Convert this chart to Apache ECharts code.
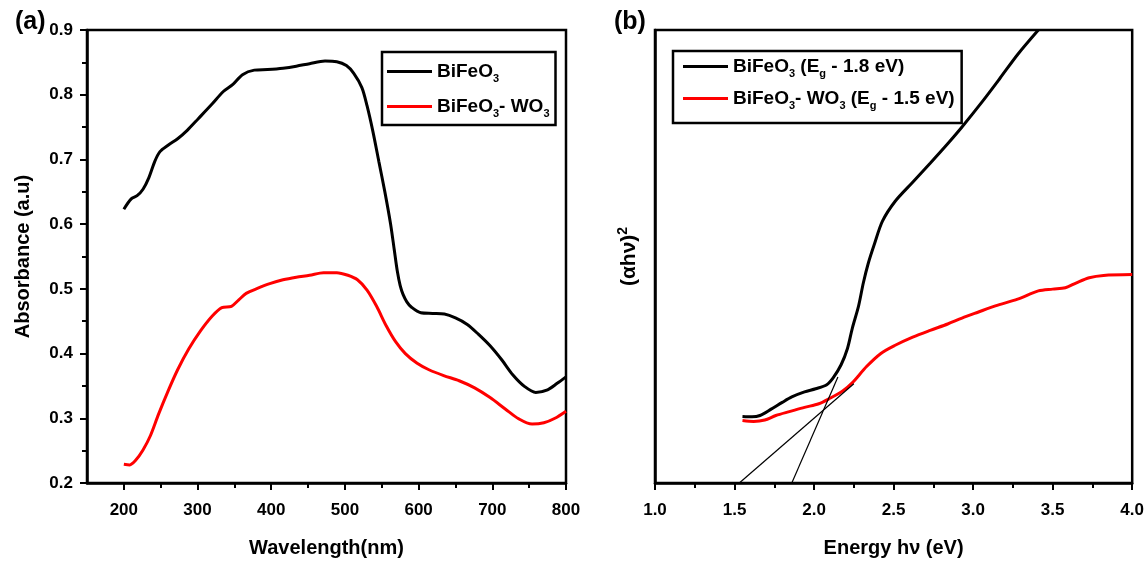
<!DOCTYPE html>
<html>
<head>
<meta charset="utf-8">
<title>BiFeO3 / BiFeO3-WO3 UV-vis</title>
<script src="https://cdn.jsdelivr.net/npm/echarts@6/dist/echarts.min.js"></script>
<style>
  html, body { margin: 0; padding: 0; background: #fff; }
  #chart { width: 1147px; height: 563px; }
</style>
</head>
<body>
<div id="chart"></div>
<script>
// (a) absorbance vs wavelength
var bfoWl = [200, 210, 218, 226, 234, 242, 249, 260, 273, 286, 301, 320, 335, 348, 361, 377, 395, 416, 434, 452, 473, 489, 502, 512, 523, 530, 538, 546, 554, 562, 567, 571, 575, 579, 584, 590, 603, 619, 635, 650, 666, 681, 697, 713, 728, 744, 759, 775, 788, 800];
var bfoAbs = [0.623, 0.639, 0.644, 0.654, 0.672, 0.697, 0.712, 0.722, 0.732, 0.745, 0.763, 0.786, 0.805, 0.816, 0.831, 0.838, 0.839, 0.841, 0.844, 0.848, 0.852, 0.851, 0.845, 0.833, 0.811, 0.783, 0.743, 0.697, 0.651, 0.600, 0.560, 0.528, 0.505, 0.491, 0.480, 0.472, 0.463, 0.462, 0.461, 0.455, 0.445, 0.430, 0.412, 0.390, 0.367, 0.349, 0.340, 0.344, 0.354, 0.364];
var bwoWl = [200, 208, 216, 226, 236, 247, 260, 273, 288, 304, 320, 333, 346, 356, 366, 382, 398, 416, 434, 452, 471, 489, 504, 517, 530, 543, 556, 569, 582, 598, 614, 634, 655, 676, 697, 718, 736, 754, 770, 785, 800];
var bwoAbs = [0.229, 0.228, 0.235, 0.251, 0.273, 0.306, 0.342, 0.375, 0.407, 0.435, 0.458, 0.471, 0.473, 0.483, 0.493, 0.501, 0.508, 0.514, 0.518, 0.521, 0.525, 0.525, 0.521, 0.514, 0.498, 0.473, 0.443, 0.418, 0.400, 0.385, 0.375, 0.366, 0.358, 0.347, 0.332, 0.314, 0.299, 0.291, 0.293, 0.300, 0.311];
var wlTicks = [200, 300, 400, 500, 600, 700, 800];
var wlMinorTicks = [250, 350, 450, 550, 650, 750];

// (b) Tauc plot, arbitrary units
var bfoE = [1.55, 1.61, 1.66, 1.73, 1.80, 1.86, 1.94, 2.01, 2.08, 2.12, 2.17, 2.21, 2.24, 2.28, 2.31, 2.34, 2.38, 2.43, 2.51, 2.62, 2.73, 2.84, 2.93, 3.06, 3.17, 3.28, 3.41];
var bfoAhv = [14.7, 14.6, 14.9, 16.3, 17.8, 19.0, 20.1, 20.8, 21.7, 23.2, 26.1, 29.7, 34.1, 39.1, 44.2, 48.4, 52.8, 57.8, 62.2, 66.4, 70.6, 74.9, 78.6, 84.3, 89.4, 94.6, 100];
var bwoE = [1.55, 1.62, 1.69, 1.76, 1.85, 1.94, 2.03, 2.10, 2.18, 2.24, 2.33, 2.42, 2.51, 2.62, 2.73, 2.84, 2.93, 3.03, 3.14, 3.28, 3.41, 3.50, 3.58, 3.65, 3.73, 3.82, 4.0];
var bwoAhv = [13.8, 13.6, 13.9, 14.9, 15.8, 16.7, 17.5, 18.7, 20.3, 22.1, 25.7, 28.6, 30.4, 32.2, 33.7, 35.1, 36.4, 37.7, 39.1, 40.6, 42.4, 42.8, 43.1, 44.2, 45.3, 45.8, 46.0];
// tangent (extrapolation) lines
var fitBfoE = [1.86, 2.15];
var fitBfoY = [0, 23.4];
var fitBwoE = [1.53, 2.25];
var fitBwoY = [0, 21.9];

function zip(xs, ys) {
	return xs.map(function(x, i) { return [x, ys[i]] })
}

var FONT = 'Liberation Sans, Arial, sans-serif'
function richSet(size) {
	return {
		n: { fontSize: size, fontWeight: 'bold', fontFamily: FONT, color: '#000', lineHeight: size + 3 },
		s: { fontSize: 11, fontWeight: 'bold', fontFamily: FONT, color: '#000', lineHeight: 12, padding: [14, 0, 0, 0] }
	}
}
var legendText = {
	'BiFeO3': '{n|BiFeO}{s|3}',
	'BiFeO3- WO3': '{n|BiFeO}{s|3}{n|- WO}{s|3}',
	'BiFeO3 (Eg - 1.8 eV)': '{n|BiFeO}{s|3}{n| (E}{s|g}{n| - 1.8 eV)}',
	'BiFeO3- WO3 (Eg - 1.5 eV)': '{n|BiFeO}{s|3}{n|- WO}{s|3}{n| (E}{s|g}{n| - 1.5 eV)}'
}

var tickLabel = { color: '#000', fontSize: 17, fontWeight: 'bold', fontFamily: FONT }
var nameStyle = { color: '#000', fontSize: 20, fontWeight: 'bold', fontFamily: FONT }
var axisLine = { show: true, lineStyle: { color: '#000', width: 2.5 } }

var chart = echarts.init(document.getElementById('chart'))
var option = {
	backgroundColor: '#fff',
	animation: false,
	title: [
		{ text: '(a)', left: 10, top: 5, textStyle: { fontSize: 25, fontWeight: 'bold', fontFamily: FONT, color: '#000' } },
		{ text: '(b)', left: 609, top: 5, textStyle: { fontSize: 25, fontWeight: 'bold', fontFamily: FONT, color: '#000' } }
	],
	grid: [
		{ left: 87, top: 30, width: 479, height: 459, show: true, borderColor: '#000', borderWidth: 2.5 },
		{ left: 655, top: 30, width: 479, height: 459, show: true, borderColor: '#000', borderWidth: 2.5 }
	],
	legend: [
		{
			data: ['BiFeO3', 'BiFeO3- WO3'],
			orient: 'vertical', left: 382, top: 52,
			icon: 'rect', itemWidth: 45, itemHeight: 3, itemGap: 10,
			padding: [7, 6, 6, 5],
			borderColor: '#000', borderWidth: 2.5,
			formatter: function(name) { return legendText[name] },
			textStyle: { rich: richSet(19) }
		},
		{
			data: ['BiFeO3 (Eg - 1.8 eV)', 'BiFeO3- WO3 (Eg - 1.5 eV)'],
			orient: 'vertical', left: 673, top: 51,
			icon: 'rect', itemWidth: 45, itemHeight: 3, itemGap: 7,
			padding: [3, 7, 12, 10],
			borderColor: '#000', borderWidth: 2.5,
			formatter: function(name) { return legendText[name] },
			textStyle: { rich: richSet(19) }
		}
	],
	xAxis: [
		{
			type: 'value', gridIndex: 0, min: 150, max: 800,
			name: 'Wavelength(nm)', nameLocation: 'middle', nameGap: 55, nameTextStyle: nameStyle,
			axisLine: axisLine,
			axisTick: { show: true, length: 7, customValues: wlTicks, lineStyle: { color: '#000', width: 2 } },
			axisLabel: Object.assign({ margin: 19, customValues: wlTicks }, tickLabel),
			splitLine: { show: false }
		},
		{
			type: 'value', gridIndex: 0, min: 150, max: 800, position: 'bottom',
			axisLine: { show: false },
			axisTick: { show: true, length: 5, customValues: wlMinorTicks, lineStyle: { color: '#000', width: 2 } },
			axisLabel: { show: false },
			splitLine: { show: false }
		},
		{
			type: 'value', gridIndex: 1, min: 1, max: 4, interval: 0.5,
			name: 'Energy h\u03bd (eV)', nameLocation: 'middle', nameGap: 55, nameTextStyle: nameStyle,
			axisLine: axisLine,
			axisTick: { show: true, length: 7, lineStyle: { color: '#000', width: 2 } },
			minorTick: { show: true, splitNumber: 2, length: 5, lineStyle: { color: '#000', width: 2 } },
			axisLabel: Object.assign({ margin: 19, formatter: function(v) { return v.toFixed(1) } }, tickLabel),
			splitLine: { show: false }
		}
	],
	yAxis: [
		{
			type: 'value', gridIndex: 0, min: 0.2, max: 0.9, interval: 0.1,
			name: 'Absorbance (a.u)', nameLocation: 'middle', nameGap: 54, nameTextStyle: nameStyle,
			axisLine: axisLine,
			axisTick: { show: true, length: 7, lineStyle: { color: '#000', width: 2 } },
			minorTick: { show: true, splitNumber: 2, length: 5, lineStyle: { color: '#000', width: 2 } },
			axisLabel: Object.assign({ margin: 14, formatter: function(v) { return v.toFixed(1) } }, tickLabel),
			splitLine: { show: false }
		},
		{
			type: 'value', gridIndex: 1, min: 0, max: 100,
			name: '{m|(\u03b1h\u03bd)}{p|2}', nameLocation: 'middle', nameGap: 14,
			nameTextStyle: {
				rich: {
					m: { fontSize: 21, fontWeight: 'bold', fontFamily: FONT, color: '#000', lineHeight: 23 },
					p: { fontSize: 14, fontWeight: 'bold', fontFamily: FONT, color: '#000', lineHeight: 14, padding: [0, 0, 12, 0] }
				}
			},
			axisLine: axisLine,
			axisTick: { show: false },
			axisLabel: { show: false },
			splitLine: { show: false }
		}
	],
	series: [
		{
			name: 'BiFeO3', type: 'line', xAxisIndex: 0, yAxisIndex: 0,
			data: zip(bfoWl, bfoAbs), symbol: 'none', smooth: 0.3,
			lineStyle: { color: '#000', width: 3 }, itemStyle: { color: '#000' }
		},
		{
			name: 'BiFeO3- WO3', type: 'line', xAxisIndex: 0, yAxisIndex: 0,
			data: zip(bwoWl, bwoAbs), symbol: 'none', smooth: 0.3,
			lineStyle: { color: '#ff0000', width: 3 }, itemStyle: { color: '#ff0000' }
		},
		{
			name: 'BiFeO3 (Eg - 1.8 eV)', type: 'line', xAxisIndex: 2, yAxisIndex: 1,
			data: zip(bfoE, bfoAhv), symbol: 'none', smooth: 0.3,
			lineStyle: { color: '#000', width: 3 }, itemStyle: { color: '#000' }
		},
		{
			name: 'BiFeO3- WO3 (Eg - 1.5 eV)', type: 'line', xAxisIndex: 2, yAxisIndex: 1,
			data: zip(bwoE, bwoAhv), symbol: 'none', smooth: 0.3,
			lineStyle: { color: '#ff0000', width: 3 }, itemStyle: { color: '#ff0000' }
		},
		{
			name: 'fit1', type: 'line', xAxisIndex: 2, yAxisIndex: 1,
			data: zip(fitBfoE, fitBfoY), symbol: 'none',
			lineStyle: { color: '#000', width: 1.2 }
		},
		{
			name: 'fit2', type: 'line', xAxisIndex: 2, yAxisIndex: 1,
			data: zip(fitBwoE, fitBwoY), symbol: 'none',
			lineStyle: { color: '#000', width: 1.2 }
		}
	]
}
chart.setOption(option)
</script>
</body>
</html>
